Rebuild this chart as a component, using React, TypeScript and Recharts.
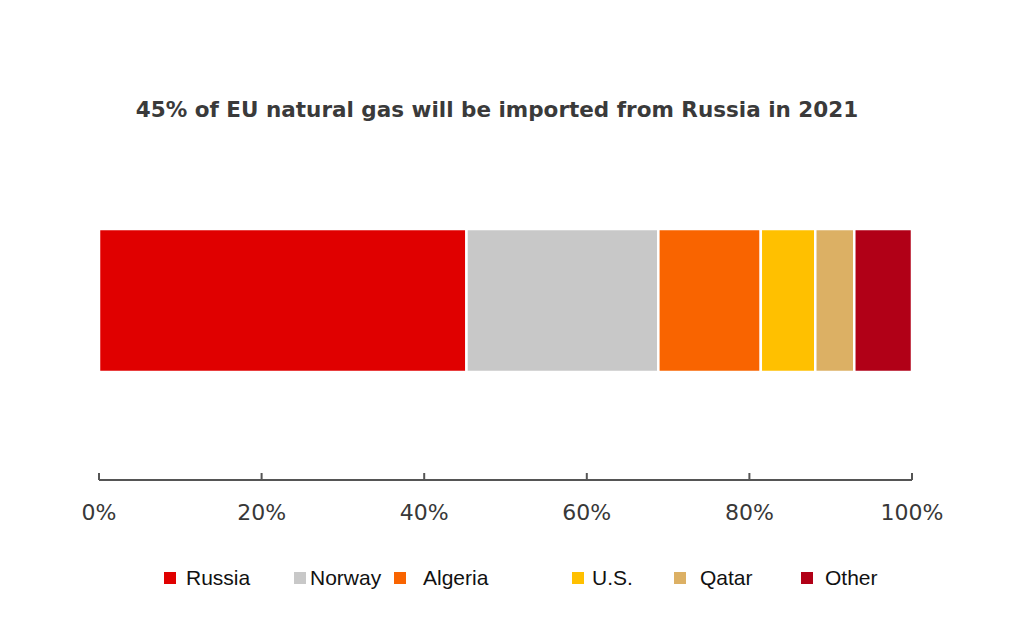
import React from "react";
import { BarChart, Bar, XAxis, YAxis } from "recharts";

// EU natural gas import shares, 2021 (one stacked bar)

const SOURCES = ["Russia", "Norway", "Algeria", "U.S.", "Qatar", "Other"];
const SHARES = [45.2, 23.6, 12.6, 6.7, 4.8, 7.1];
const COLORS = ["#e00000", "#c8c8c8", "#f96400", "#ffc000", "#dcb064", "#b10017"];
const TICKS = [0, 20, 40, 60, 80, 100];
const TITLE = "45% of EU natural gas will be imported from Russia in 2021";

// legend layout (pixels from the left edge)
const LEGEND_SQUARE_X = [164, 294, 394, 572, 674, 801];
const LEGEND_TEXT_X = [186, 310, 423, 592, 700, 825];

const row: any = { name: "2021" };
SOURCES.forEach((s, i) => {
  row[s] = SHARES[i];
});
const data = [row];

const App = () => {
  return (
    <div
      style={{
        position: "absolute",
        left: 0,
        top: 0,
        width: 1024,
        height: 618,
        background: "#fff",
      }}
    >
      <BarChart
        width={1024}
        height={618}
        layout="vertical"
        data={data}
        margin={{ top: 121, right: 112, left: 99, bottom: 78 }}
      >
        <XAxis
          type="number"
          domain={[0, 100]}
          ticks={TICKS}
          interval={0}
          height={60}
          tickFormatter={(v) => `${v}%`}
          axisLine={{ stroke: "#555", strokeWidth: 2 }}
          tickLine={{ stroke: "#555", strokeWidth: 2 }}
          tickSize={-7}
          tickMargin={31}
          tick={{ fill: "#383838", fontSize: 22, fontFamily: "DejaVu Sans" }}
        />
        <YAxis type="category" dataKey="name" hide />
        {SOURCES.map((s, i) => (
          <Bar
            key={s}
            dataKey={s}
            stackId="a"
            fill={COLORS[i]}
            stroke="#fff"
            strokeWidth={2.5}
            barSize={143}
            isAnimationActive={false}
          />
        ))}
      </BarChart>

      <svg
        width={1024}
        height={618}
        style={{ position: "absolute", left: 0, top: 0, pointerEvents: "none" }}
      >
        <text
          x={497}
          y={117}
          textAnchor="middle"
          fill="#3a3a3a"
          fontSize={21.5}
          fontWeight={700}
          fontFamily="DejaVu Sans"
        >
          {TITLE}
        </text>
        {SOURCES.map((s, i) => (
          <g key={s}>
            <rect x={LEGEND_SQUARE_X[i]} y={572} width={12} height={12} fill={COLORS[i]} />
            <text
              x={LEGEND_TEXT_X[i]}
              y={585}
              fill="#111"
              fontSize={21}
              fontFamily="Liberation Sans"
            >
              {s}
            </text>
          </g>
        ))}
      </svg>
    </div>
  );
};

export default App;
